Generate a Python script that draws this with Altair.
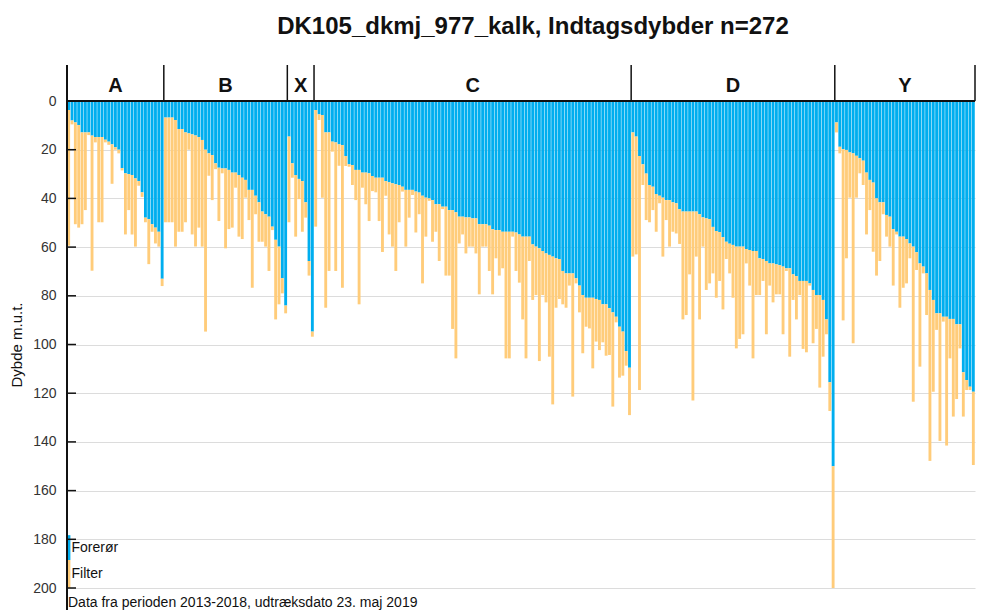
import altair as alt
import pandas as pd

TITLE = "DK105_dkmj_977_kalk,  Indtagsdybder n=272"
FOOTER = "Data fra perioden 2013-2018, udtræksdato 23. maj 2019"
Y_LABEL = "Dybde m.u.t."
GROUPS = ["A", "B", "X", "C", "D", "Y"]
Y_TICKS = [0, 20, 40, 60, 80, 100, 120, 140, 160, 180, 200]
LEGEND_LABELS = ["Forerør", "Filter"]

# depth (m) to bottom of casing (forerør) = top of filter, and bottom of filter
A_forer = [3.7, 8.0, 8.8, 9.9, 12.9, 12.9, 12.9, 14.2, 14.8, 14.8,
           14.8, 15.9, 16.7, 17.8, 19.0, 20.0, 27.6, 29.7, 30.0, 30.4,
           31.8, 32.9, 37.5, 47.9, 48.5, 50.6, 52.0, 53.7, 73.0]
A_bund = [59.4, 9.6, 50.6, 52.0, 50.6, 44.8, 14.0, 69.7, 17.0, 49.8,
          49.8, 17.0, 18.0, 34.0, 20.0, 21.5, 28.5, 54.8, 44.8, 54.8,
          59.8, 34.8, 39.4, 49.8, 67.0, 53.7, 58.5, 59.8, 76.0]

B_forer = [6.8, 6.8, 6.8, 7.8, 11.5, 11.5, 12.9, 13.3, 13.7, 14.2,
           14.8, 16.0, 20.0, 21.5, 22.2, 25.6, 27.4, 27.7, 27.7, 28.3,
           29.4, 29.4, 30.4, 31.5, 32.4, 36.5, 36.5, 38.9, 41.6, 45.4,
           46.5, 47.5, 51.6, 57.0, 59.8, 72.8, 84.0]
B_bund = [49.8, 49.8, 49.8, 59.8, 53.7, 53.7, 49.8, 20.0, 54.8, 59.8,
          52.0, 59.8, 94.7, 30.7, 40.7, 28.0, 49.3, 29.7, 60.5, 52.6,
          52.0, 35.6, 55.7, 56.7, 39.7, 48.9, 76.7, 46.5, 57.8, 57.8,
          59.8, 69.8, 53.0, 89.7, 83.5, 79.0, 87.2]

X_forer = [14.6, 25.6, 30.4, 32.0, 32.9, 41.6, 65.7, 94.7]
X_bund = [49.8, 31.5, 55.7, 40.3, 53.7, 47.9, 71.7, 96.8]

C_forer = [3.7, 5.5, 5.7, 12.9, 12.9, 16.7, 17.0, 17.8, 18.1, 22.6,
           26.0, 26.3, 28.3, 28.3, 29.4, 29.4, 29.7, 30.8, 31.5, 31.5,
           31.5, 32.9, 33.4, 33.8, 34.2, 34.5, 35.2, 36.5, 36.5, 36.5,
           37.2, 37.6, 38.9, 39.7, 40.0, 40.7, 42.4, 42.4, 43.4, 43.4,
           44.8, 44.8, 45.7, 47.5, 47.5, 47.8, 47.8, 48.2, 48.2, 50.6,
           50.6, 50.6, 51.2, 52.7, 53.0, 53.0, 53.7, 53.7, 53.7, 53.7,
           54.0, 54.8, 55.7, 55.7, 55.7, 58.9, 59.8, 60.5, 61.6, 62.6,
           63.2, 63.9, 64.6, 64.9, 69.8, 70.8, 70.8, 70.8, 72.8, 75.8,
           79.7, 80.8, 80.8, 80.8, 81.3, 81.7, 83.5, 83.5, 85.1, 86.8,
           88.6, 92.7, 94.7, 102.7, 109.5]
C_bund = [51.6, 7.8, 39.7, 84.9, 69.8, 20.8, 69.8, 26.6, 76.7, 26.7,
          27.0, 34.5, 40.7, 83.5, 35.6, 42.4, 49.3, 37.0, 37.5, 49.3,
          62.0, 38.9, 54.8, 59.8, 69.8, 49.8, 37.2, 59.8, 47.9, 38.6,
          54.0, 46.5, 74.9, 55.7, 41.0, 57.8, 53.7, 65.7, 44.4, 71.7,
          71.7, 93.6, 105.7, 58.5, 54.8, 62.6, 59.8, 59.8, 62.6, 79.4,
          59.8, 59.8, 69.8, 79.4, 64.6, 71.7, 68.7, 105.7, 105.7, 55.7,
          69.8, 74.6, 89.7, 105.7, 65.7, 81.7, 79.7, 106.8, 79.7, 82.7,
          105.0, 124.6, 84.9, 81.3, 83.5, 84.9, 75.8, 121.4, 74.9, 86.8,
          103.6, 92.7, 93.4, 109.8, 98.8, 102.3, 99.1, 104.6, 104.3, 125.5,
          90.9, 113.6, 112.8, 108.7, 129.0]

D_forer = [12.9, 14.6, 22.6, 26.0, 29.8, 34.5, 35.2, 38.2, 38.9, 39.7,
           40.7, 40.7, 41.6, 42.0, 44.4, 45.4, 45.4, 45.4, 45.4, 45.4,
           46.5, 47.8, 48.2, 48.5, 51.7, 53.4, 53.9, 55.9, 57.8, 58.6,
           59.1, 59.8, 59.8, 59.8, 60.8, 61.2, 61.6, 61.6, 64.6, 64.9,
           65.7, 66.7, 66.7, 67.1, 67.4, 68.0, 68.7, 68.7, 71.2, 71.9,
           73.9, 73.9, 73.9, 74.9, 77.6, 79.7, 79.7, 81.7, 89.7, 115.5,
           150.0]
D_bund = [63.9, 63.0, 118.7, 34.5, 48.9, 49.8, 44.8, 53.7, 42.0, 63.9,
          48.9, 59.8, 53.7, 54.4, 58.7, 89.7, 87.9, 71.2, 123.0, 63.9,
          89.7, 59.8, 77.6, 74.9, 70.8, 80.8, 73.9, 85.6, 64.9, 70.8,
          80.8, 101.6, 97.7, 95.8, 66.7, 75.8, 105.7, 79.7, 79.7, 73.9,
          95.8, 75.8, 82.7, 79.4, 79.4, 95.8, 69.8, 105.0, 81.7, 89.7,
          79.7, 101.8, 103.2, 75.8, 99.5, 93.6, 117.7, 105.0, 95.8, 127.3,
          200.0]

Y_forer = [8.8, 18.8, 19.8, 20.1, 21.1, 21.5, 22.5, 23.5, 24.5, 29.4,
           32.4, 33.5, 40.0, 41.6, 41.6, 46.8, 47.5, 52.6, 53.7, 55.7,
           55.7, 56.7, 58.5, 59.8, 62.1, 66.7, 68.0, 70.8, 77.6, 81.7,
           87.2, 87.2, 88.6, 88.6, 89.5, 89.5, 91.7, 91.7, 111.4, 114.6,
           117.3, 119.4]
Y_bund = [12.9, 21.5, 90.1, 64.6, 39.7, 99.5, 39.7, 29.7, 34.5, 54.8,
          44.8, 61.9, 71.7, 65.7, 46.5, 55.7, 59.8, 75.8, 54.8, 84.9,
          76.7, 74.9, 64.6, 123.5, 69.4, 109.1, 70.8, 87.9, 147.8, 119.4,
          94.0, 139.6, 90.6, 141.5, 105.7, 129.6, 122.4, 101.6, 129.6, 118.7,
          118.7, 149.5]

FORER = {"A": A_forer, "B": B_forer, "X": X_forer, "C": C_forer, "D": D_forer, "Y": Y_forer}
BUND = {"A": A_bund, "B": B_bund, "X": X_bund, "C": C_bund, "D": D_bund, "Y": Y_bund}

rows, bounds, centers = [], [0], []
i = 0
for g in GROUPS:
    start = i
    for fv, bv in zip(FORER[g], BUND[g]):
        rows.append({"x0": i + 0.07, "x1": i + 0.93, "top": 0.0, "forer": fv, "bund": bv})
        i += 1
    bounds.append(i)
    centers.append({"g": g, "c": (start + i) / 2})
N = i
df = pd.DataFrame(rows)

FONT = "Liberation Sans"
BLUE = "#00AEEF"
ORANGE = "#FFCC7A"
W, H = 908, 487

xs = alt.Scale(domain=[0, N], nice=False, zero=False)
ys = alt.Scale(domain=[0, 200], reverse=True, nice=False, zero=False)


def yaxis():
    return alt.Axis(
        values=Y_TICKS, grid=True, gridColor="#DCDCDC", gridWidth=1.2, ticks=False, domain=False,
        labelFont=FONT, labelFontSize=14, labelColor="#333", labelPadding=11,
        title=Y_LABEL, titleFont=FONT, titleFontSize=15, titleFontWeight="normal",
        titleColor="#111", titlePadding=8)


base = alt.Chart(df)
blue = base.mark_rect(color=BLUE).encode(
    x=alt.X("x0:Q", scale=xs, axis=None), x2="x1",
    y=alt.Y("top:Q", scale=ys, axis=yaxis()), y2="forer")
orange = base.mark_rect(color=ORANGE).encode(
    x=alt.X("x0:Q", scale=xs, axis=None), x2="x1",
    y=alt.Y("forer:Q", scale=ys, axis=yaxis()), y2="bund")

ticks = alt.Chart(pd.DataFrame({"v": Y_TICKS})).mark_rule(color="#111", strokeWidth=1.5).encode(
    y=alt.Y("v:Q", scale=ys, axis=yaxis()),
    x=alt.value(-1), x2=alt.value(9))

sep = alt.Chart(pd.DataFrame({"b": bounds})).mark_rule(color="#111", strokeWidth=1.5).encode(
    x=alt.X("b:Q", scale=xs, axis=None), y=alt.value(-36), y2=alt.value(0))
labels = alt.Chart(pd.DataFrame(centers)).mark_text(
    font=FONT, fontSize=20, fontWeight="bold", baseline="middle", color="#111").encode(
    x=alt.X("c:Q", scale=xs, axis=None), y=alt.value(-15), text="g:N")

one = pd.DataFrame({"t": [TITLE]})
top_line = alt.Chart(one).mark_rule(color="#111", strokeWidth=2).encode(
    x=alt.value(0), x2=alt.value(W), y=alt.value(0))
left_line = alt.Chart(one).mark_rule(color="#111", strokeWidth=2).encode(
    x=alt.value(0), y=alt.value(-36), y2=alt.value(H + 24))
title = alt.Chart(one).mark_text(
    font=FONT, fontSize=24, fontWeight="bold", align="center", baseline="middle", color="#111").encode(
    x=alt.value(466), y=alt.value(-74), text="t:N")
footer = alt.Chart(pd.DataFrame({"t": [FOOTER]})).mark_text(
    font=FONT, fontSize=14, align="left", baseline="alphabetic", color="#111").encode(
    x=alt.value(1), y=alt.value(H + 19), text="t:N")

leg_df = pd.DataFrame({
    "lab": LEGEND_LABELS,
    "y0": [178.3, 188.5], "y1": [188.5, 200.0], "ty": [183.6, 194.2],
    "c": [BLUE, ORANGE]})
leg_rect = alt.Chart(leg_df).mark_rect().encode(
    x=alt.value(0.8), x2=alt.value(3.4),
    y=alt.Y("y0:Q", scale=ys, axis=yaxis()), y2="y1",
    color=alt.Color("c:N", scale=None, legend=None))
leg_text = alt.Chart(leg_df).mark_text(
    font=FONT, fontSize=14, align="left", baseline="middle", color="#111").encode(
    x=alt.value(4.5), y=alt.Y("ty:Q", scale=ys, axis=yaxis()), text="lab:N")

chart = alt.layer(
    blue, orange, leg_rect, ticks, leg_text, sep, labels, top_line, left_line, title, footer
).properties(
    width=W, height=H,
    padding={"left": 59, "top": 93, "right": 9, "bottom": 22},
    autosize=alt.AutoSizeParams(type="none"),
).configure_view(stroke=None)

chart.save("out.html", embed_options={"renderer": "svg", "actions": False})
